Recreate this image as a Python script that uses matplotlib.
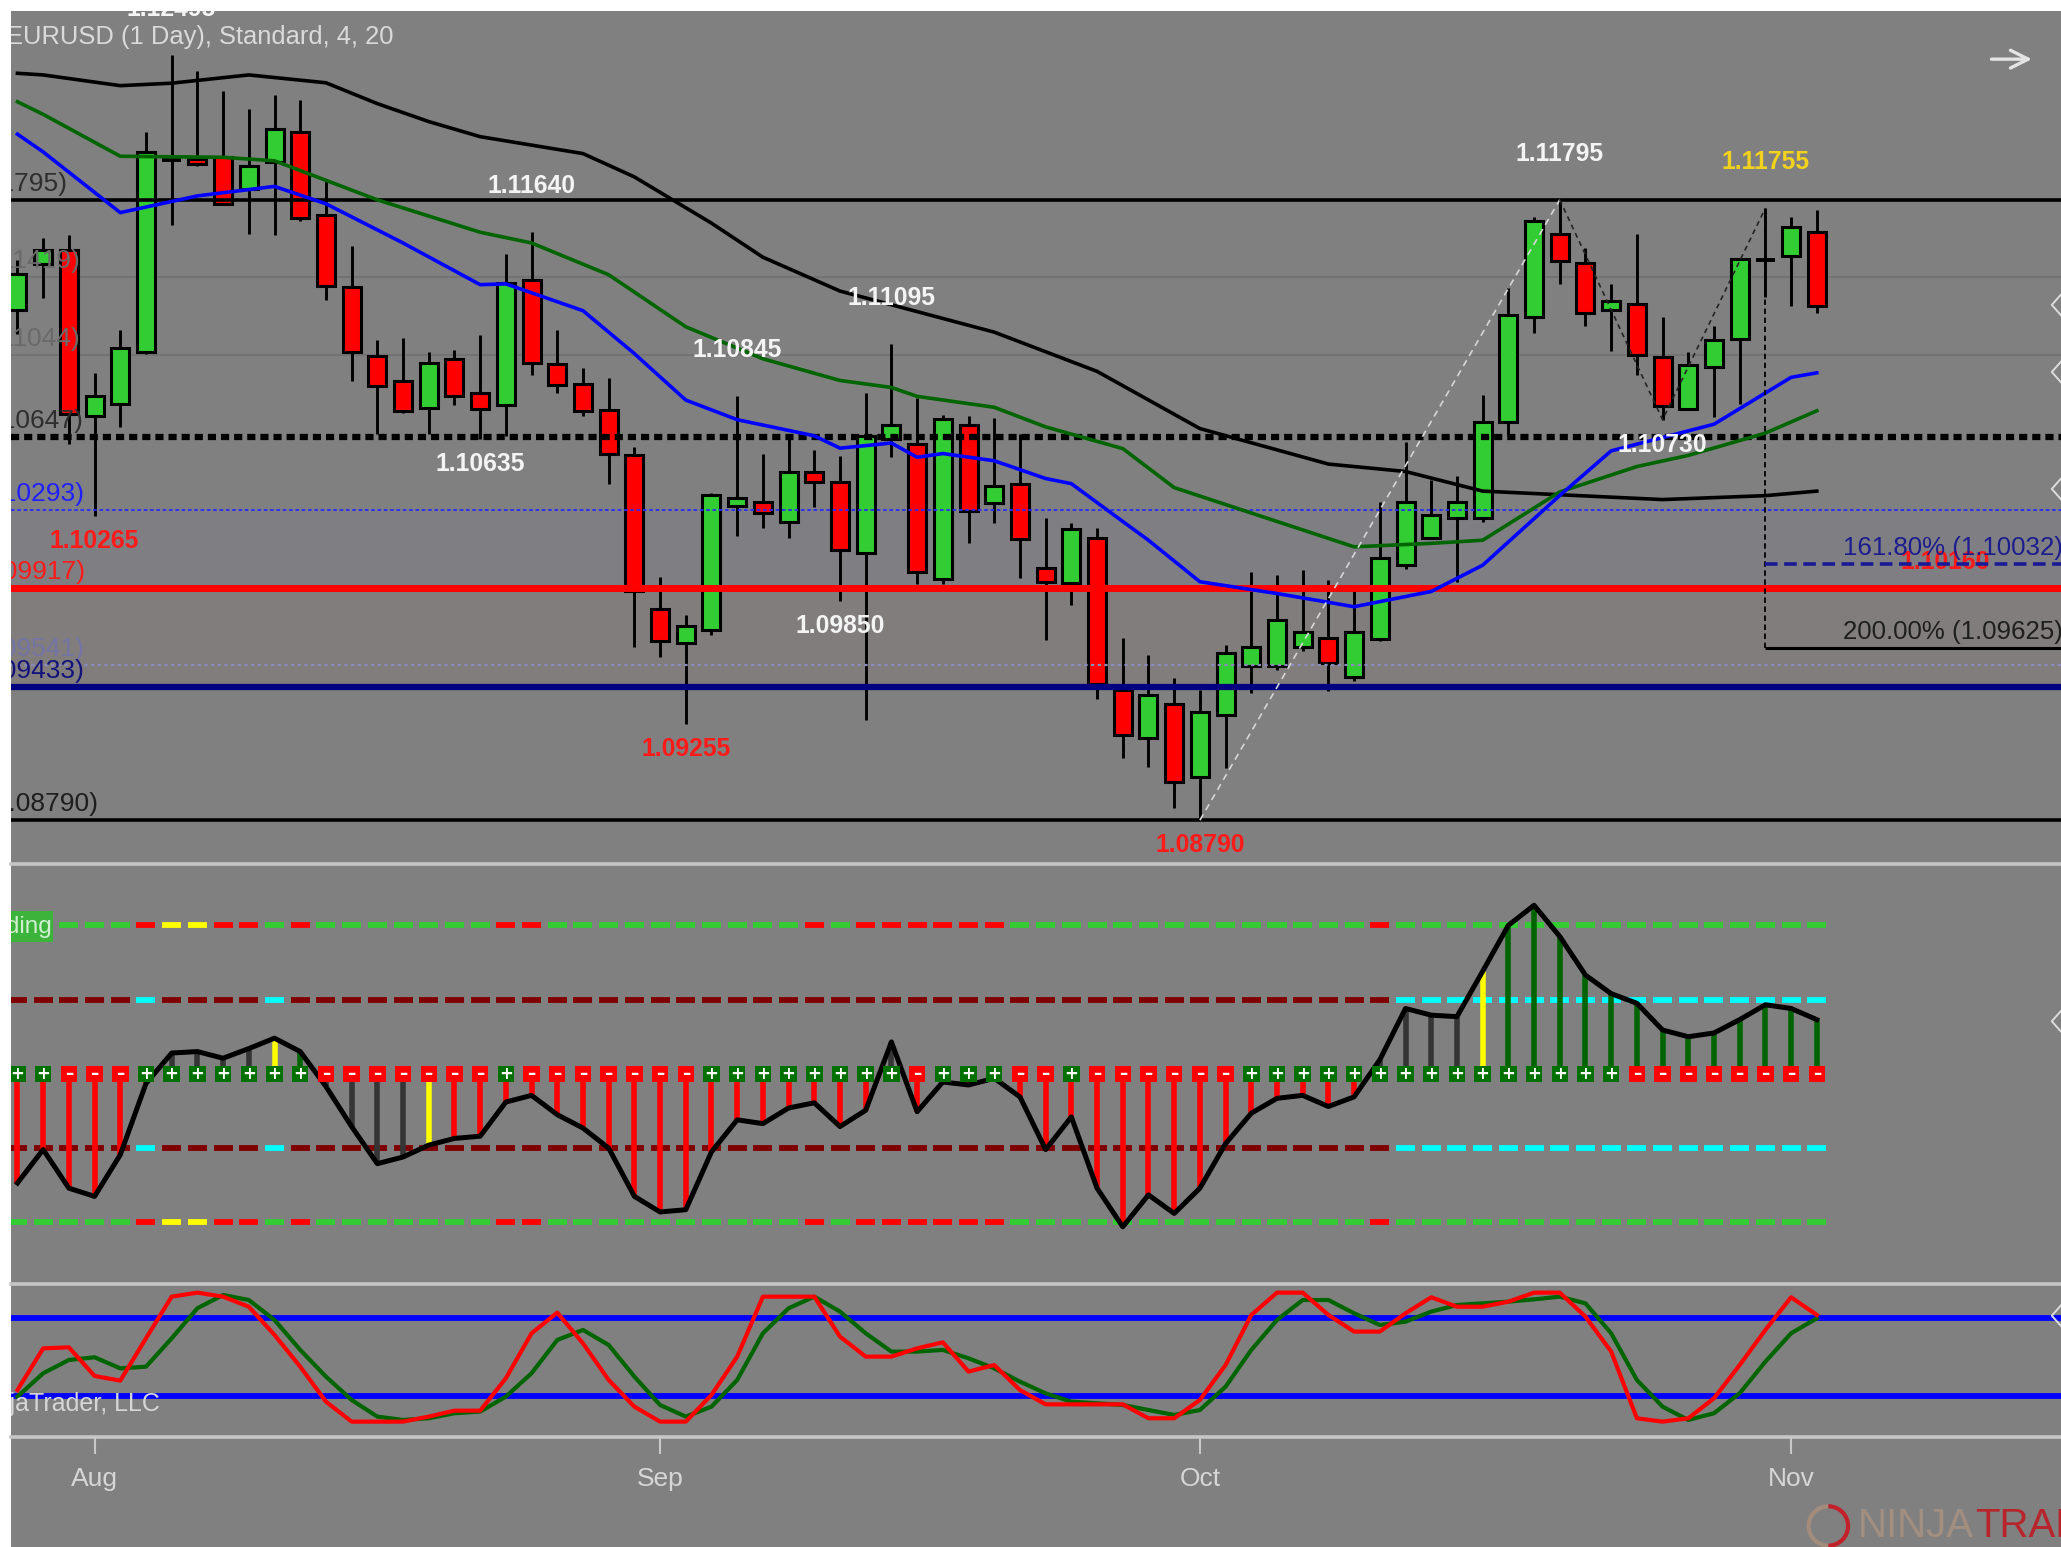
import matplotlib
matplotlib.use("Agg")
import matplotlib.pyplot as plt
from matplotlib.patches import Rectangle, Arc
from matplotlib.lines import Line2D

plt.rcParams['font.family'] = ['Liberation Sans', 'DejaVu Sans']

# ---------------- data ----------------
bars = list(range(-3, 68))   # 0 = 1 Aug 2019 (daily bars)

opens = [1.11260, 1.11483, 1.11553, 1.10747, 1.10808, 1.11058, 1.11986, 1.11992, 1.12001, 1.11849,
         1.11980, 1.12123, 1.11721, 1.11375, 1.11037, 1.10916, 1.10789, 1.11025, 1.10859, 1.10799,
         1.11407, 1.11002, 1.10904, 1.10776, 1.10557, 1.09815, 1.09650, 1.09713, 1.10312, 1.10332,
         1.10235, 1.10477, 1.10426, 1.10082, 1.10636, 1.10611, 1.09956, 1.10706, 1.10324, 1.10420,
         1.10012, 1.09938, 1.10159, 1.09420, 1.09187, 1.09353, 1.09000, 1.09299, 1.09535, 1.09535,
         1.09630, 1.09671, 1.09484, 1.09670, 1.10027, 1.10159, 1.10254, 1.10254, 1.10719, 1.11228,
         1.11629, 1.11487, 1.11260, 1.11292, 1.11033, 1.10784, 1.10985, 1.11120, 1.11502, 1.11521,
         1.11638]
highs = [1.11502, 1.11610, 1.11623, 1.10955, 1.11165, 1.12123, 1.12495, 1.12419, 1.12323, 1.12234,
         1.12304, 1.12279, 1.11897, 1.11572, 1.11114, 1.11127, 1.11057, 1.11069, 1.11139, 1.11531,
         1.11640, 1.11165, 1.10980, 1.10932, 1.10598, 1.09968, 1.09783, 1.10375, 1.10845, 1.10566,
         1.10662, 1.10585, 1.10554, 1.10859, 1.11095, 1.10834, 1.10751, 1.10747, 1.10738, 1.10662,
         1.10254, 1.10229, 1.10203, 1.09671, 1.09592, 1.09478, 1.09420, 1.09639, 1.09993, 1.09980,
         1.10003, 1.09955, 1.09911, 1.10331, 1.10624, 1.10439, 1.10458, 1.10849, 1.11368, 1.11712,
         1.11795, 1.11563, 1.11389, 1.11629, 1.11228, 1.11057, 1.11184, 1.11515, 1.11755, 1.11712,
         1.11747]
lows = [1.11146, 1.11318, 1.10611, 1.10265, 1.10694, 1.11050, 1.11674, 1.11960, 1.11770, 1.11629,
        1.11623, 1.11693, 1.11311, 1.10916, 1.10662, 1.10764, 1.10662, 1.10802, 1.10635, 1.10650,
        1.10948, 1.10859, 1.10747, 1.10420, 1.09630, 1.09579, 1.09255, 1.09688, 1.10168, 1.10203,
        1.10159, 1.10305, 1.09850, 1.09274, 1.10547, 1.09936, 1.09936, 1.10133, 1.10229, 1.09961,
        1.09662, 1.09834, 1.09376, 1.09089, 1.09049, 1.08847, 1.08790, 1.09045, 1.09408, 1.09516,
        1.09611, 1.09414, 1.09465, 1.09656, 1.10006, 1.10152, 1.09942, 1.10233, 1.10655, 1.11152,
        1.11389, 1.11184, 1.11065, 1.10948, 1.10730, 1.10776, 1.10741, 1.10806, 1.11324, 1.11279,
        1.11249]
closes = [1.11438, 1.11553, 1.10757, 1.10843, 1.11076, 1.12027, 1.11990, 1.11967, 1.11776, 1.11960,
          1.12139, 1.11706, 1.11379, 1.11057, 1.10891, 1.10773, 1.11006, 1.10843, 1.10783, 1.11394,
          1.11006, 1.10897, 1.10773, 1.10566, 1.09898, 1.09656, 1.09732, 1.10363, 1.10353, 1.10280,
          1.10477, 1.10426, 1.10098, 1.10652, 1.10706, 1.09993, 1.10732, 1.10286, 1.10410, 1.10152,
          1.09942, 1.10199, 1.09452, 1.09204, 1.09395, 1.08977, 1.09315, 1.09599, 1.09630, 1.09760,
          1.09702, 1.09550, 1.09702, 1.10059, 1.10331, 1.10267, 1.10331, 1.10719, 1.11238, 1.11693,
          1.11498, 1.11249, 1.11305, 1.11044, 1.10795, 1.10994, 1.11115, 1.11509, 1.11500, 1.11661,
          1.11281]

month_ticks = [0, 22, 43, 66]
month_labels = ["Aug", "Sep", "Oct", "Nov"]

# moving averages (bar, price)
ma_slow_bars = [-3, -2, 1, 3, 6, 9, 11, 13, 15, 19, 21, 24, 26, 29, 35, 39, 43, 48, 51, 54, 61, 65, 67]
ma_slow_vals = [1.12408, 1.12400, 1.12348, 1.12360, 1.12400, 1.12362, 1.12261, 1.12174, 1.12101, 1.12019,
                1.11906, 1.11682, 1.11517, 1.11353, 1.11154, 1.10964, 1.10687, 1.10515, 1.10479, 1.10384,
                1.10343, 1.10362, 1.10384]
ma_mid_bars = [-3, -2, 1, 5, 7, 11, 15, 17, 20, 23, 26, 29, 31, 32, 35, 37, 40, 42, 46, 49, 52, 54, 57,
               60, 62, 65, 67]
ma_mid_vals = [1.12270, 1.12209, 1.12006, 1.12001, 1.11984, 1.11795, 1.11638, 1.11586, 1.11432, 1.11180,
               1.11025, 1.10920, 1.10886, 1.10843, 1.10790, 1.10695, 1.10590, 1.10401, 1.10237, 1.10114,
               1.10131, 1.10146, 1.10380, 1.10503, 1.10557, 1.10665, 1.10773]
ma_fast_bars = [-3, -2, 1, 4, 7, 9, 12, 15, 16, 19, 21, 23, 25, 28, 29, 31, 32, 33, 35, 37, 38, 40, 41,
                43, 46, 49, 52, 54, 57, 59, 63, 66, 67]
ma_fast_vals = [1.12113, 1.12027, 1.11733, 1.11814, 1.11860, 1.11776, 1.11586, 1.11384, 1.11388, 1.11258,
                1.11050, 1.10825, 1.10730, 1.10652, 1.10592, 1.10617, 1.10548, 1.10566, 1.10531, 1.10445,
                1.10420, 1.10237, 1.10146, 1.09945, 1.09888, 1.09824, 1.09898, 1.10025, 1.10363, 1.10579,
                1.10708, 1.10935, 1.10957]

# horizontal levels
level_prices = [1.11795, 1.11419, 1.11044, 1.10647, 1.10293, 1.09917, 1.09541, 1.09433, 1.08790]
level_texts = ["(1.11795)", "(1.11419)", "(1.11044)", "(1.10647)", "(1.10293)", "(1.09917)",
               "(1.09541)", "(1.09433)", "(1.08790)"]
level_label_end = [-1.07, -0.56, -0.56, -0.45, -0.40, -0.36, -0.40, -0.40, 0.13]

# swing labels
swing_bars = [3, 0, 17, 15, 25, 23, 31, 29, 43, 57, 61, 65]
swing_texts = ["1.12495", "1.10265", "1.11640", "1.10635", "1.10845", "1.09255", "1.11095",
               "1.09850", "1.08790", "1.11795", "1.10730", "1.11755"]
swing_kind = ["high", "low", "high", "low", "high", "low", "high", "low", "low", "high", "low", "high"]
swing_tone = ["white", "red", "white", "white", "white", "red", "white", "white", "red", "white",
              "white", "yellow"]

zig_bars = [43, 57, 61, 65]
zig_vals = [1.08790, 1.11795, 1.10730, 1.11755]

fib_bar = 65
fib_top = 1.11755
fib_prices = [1.10032, 1.09625]
fib_texts = ["161.80% (1.10032)", "200.00% (1.09625)"]

# oscillator panel
osc_vals = [-1.47, -1.02, -1.54, -1.65, -1.09, -0.13, 0.28, 0.30, 0.21, 0.34,
            0.48, 0.30, -0.17, -0.71, -1.21, -1.12, -0.96, -0.87, -0.84, -0.38,
            -0.29, -0.55, -0.73, -1.00, -1.65, -1.86, -1.83, -1.05, -0.62, -0.67,
            -0.46, -0.39, -0.71, -0.49, 0.43, -0.51, -0.11, -0.15, -0.06, -0.31,
            -1.02, -0.58, -1.54, -2.06, -1.63, -1.88, -1.54, -0.94, -0.53, -0.33,
            -0.29, -0.44, -0.31, 0.19, 0.88, 0.79, 0.77, 1.38, 2.00, 2.27,
            1.85, 1.33, 1.08, 0.95, 0.59, 0.50, 0.55, 0.73, 0.93, 0.88,
            0.73]
osc_state = ("RRRRRR" "KKKK" "Y" "G" "KKKK" "Y" "RRRRRRRRRRRRRRRRR" "K"
             "RRRRRRRRRRRRRRRRRR" "KKKK" "Y" "GGGGGGGGGGGGG")
osc_sign = ("++" "---" "+++++++" "-------" "+" "-------" "++++++++" "-" "+++" "--" "+"
            "------" "+++++++++++++++" "--------")
band_outer = ("GGGGG" "R" "YY" "RR" "G" "R" "GGGGGGG" "RR" "GGGGGGGGGG" "R" "G" "RRRRRR"
              "GGGGGGGGGGGGGG" "R" "GGGGGGGGGGGGGGGGG")
band_inner = ("DDDDD" "C" "DDDD" "C" + "D" * 43 + "C" * 17)

# stochastics
stoch_k = [24.5, 56.8, 57.6, 35.4, 31.8, 64.6, 96.9, 100, 96.9, 89.1,
           67.2, 42.6, 15.5, 0, 0, 0, 3.9, 8.5, 8.5, 33.6,
           68.5, 84.5, 60.7, 32.3, 11.6, 0, 0, 20.7, 50.4, 96.9,
           96.9, 96.9, 65.9, 50.4, 50.4, 56.8, 61.5, 38.8, 43.9, 24.5,
           13.4, 13.4, 13.4, 13.4, 2.6, 2.6, 16.8, 43.9, 82.7, 100,
           100, 82.7, 69.8, 69.8, 84.0, 96.4, 89.1, 89.1, 93.0, 100,
           100, 81.4, 54.3, 2.6, 0, 2.6, 18.1, 43.9, 71.1, 96.4,
           82.7]
stoch_d = [19.4, 37.5, 47.8, 49.9, 41.3, 42.6, 64.6, 87.9, 98.2, 94.3,
           78.8, 55.6, 34.9, 16.8, 3.9, 1.3, 2.6, 6.5, 7.8, 19.4,
           37.5, 63.3, 71.1, 59.4, 34.9, 12.9, 3.9, 11.6, 32.3, 68.5,
           87.9, 96.9, 85.3, 68.5, 54.3, 54.3, 55.6, 49.1, 41.3, 31.0,
           21.9, 15.5, 14.2, 12.9, 9.0, 5.2, 9.0, 27.1, 55.6, 78.8,
           94.3, 94.3, 84.0, 74.9, 77.5, 85.3, 90.4, 91.7, 93.0, 94.8,
           96.9, 91.7, 68.5, 32.3, 11.6, 1.3, 6.5, 22.0, 46.5, 68.5,
           80.1]

# ---------------- layout ----------------
W, H = 1568.0, 1177.0
def fx(x): return x / W
def fy(y): return 1 - y / H

BG = '#808080'
fig = plt.figure(figsize=(20.61, 15.47), dpi=100, facecolor='white')
fig.add_artist(Rectangle((fx(8), 0), 1 - fx(8), fy(8), transform=fig.transFigure,
                         facecolor=BG, edgecolor='none', zorder=0))

ax1 = fig.add_axes([fx(8), fy(657), 1 - fx(8), (657 - 8) / H])
ax2 = fig.add_axes([fx(8), fy(977), 1 - fx(8), (977 - 657) / H])
ax3 = fig.add_axes([fx(8), fy(1093), 1 - fx(8), (1093 - 977) / H])
XL = (-3.27, 76.5)
for ax in (ax1, ax2, ax3):
    ax.set_facecolor(BG)
    for s in ax.spines.values():
        s.set_visible(False)
    ax.set_xlim(*XL)
    ax.set_yticks([])
ax1.set_xticks([])
ax2.set_xticks([])
ax1.set_ylim(1.08580, 1.12712)
ax2.set_ylim(-2.832, 2.832)
ax3.set_ylim(-11.6, 106.6)

FS_LVL = 19
FS_SW = 17.8
FS_FIB = 18.6
GREEN = '#32cd32'
RED = '#ff0000'

# ---------------- price panel ----------------
ax1.axhspan(1.09917, 1.10293, color='#7e7e83', zorder=0.3, lw=0)
ax1.axhspan(1.09433, 1.09917, color='#817d7d', zorder=0.3, lw=0)

for b, o, h, l, c in zip(bars, opens, highs, lows, closes):
    ax1.vlines(b, l, h, color='black', lw=2.1, zorder=3)
    if abs(c - o) < 0.00008:
        ax1.hlines(o, b - 0.36, b + 0.36, color='black', lw=2.8, zorder=4)
    else:
        ax1.bar(b, abs(c - o), bottom=min(o, c), width=0.7,
                color=GREEN if c > o else RED, edgecolor='black', linewidth=2.2, zorder=4)

ax1.axhline(level_prices[0], color='black', lw=2.6, zorder=5)
ax1.axhline(level_prices[1], color='#737373', lw=1.5, zorder=1)
ax1.axhline(level_prices[2], color='#737373', lw=1.5, zorder=1)
ax1.axhline(level_prices[3], color='black', lw=4.5, ls=(0, (1.3, 0.8)), zorder=5)
ax1.axhline(level_prices[4], color='#2a2aff', lw=1.3, ls=(0, (2, 1.5)), zorder=5)
ax1.axhline(level_prices[5], color='#ff0000', lw=5, zorder=5)
ax1.axhline(level_prices[6], color='#8a8abb', lw=1.6, ls=(0, (1.5, 1.5)), zorder=5)
ax1.axhline(level_prices[7], color='#000080', lw=4.5, zorder=5)
ax1.axhline(level_prices[8], color='black', lw=2.6, zorder=5)

level_colors = ['#2e2e2e', '#6a6a6a', '#6a6a6a', '#2e2e2e', '#2020ff', '#ff1a1a', '#7474a6',
                '#12127a', '#1e1e1e']
for p, t, xe, col in zip(level_prices, level_texts, level_label_end, level_colors):
    ax1.annotate(t, xy=(xe, p), xytext=(0, 11.5), textcoords='offset points', ha='right',
                 va='center', color=col, fontsize=FS_LVL, clip_on=True, zorder=7)

ax1.plot(ma_slow_bars, ma_slow_vals, color='black', lw=2.6, zorder=6)
ax1.plot(ma_mid_bars, ma_mid_vals, color='#006400', lw=2.6, zorder=6)
ax1.plot(ma_fast_bars, ma_fast_vals, color='#0000ff', lw=2.6, zorder=6)

ax1.plot(zig_bars[:2], zig_vals[:2], color='#d6d6d6', lw=1.2, ls=(0, (4, 3)), zorder=6)
ax1.plot(zig_bars[1:], zig_vals[1:], color='#242424', lw=1.2, ls=(0, (3, 2.5)), zorder=6)

ax1.annotate("1.10160", xy=(72.0, 1.10160), xytext=(0, -18), textcoords='offset points',
             ha='center', va='center', color='#ff1a1a', fontsize=FS_SW, fontweight='bold',
             clip_on=True, zorder=5.5)
ax1.vlines(fib_bar, fib_prices[1], fib_top, color='black', lw=1.3, ls=(0, (3, 2)), zorder=6)
ax1.hlines(fib_prices[1], fib_bar, XL[1], color='black', lw=2.2, zorder=6)
ax1.hlines(fib_prices[0], fib_bar, XL[1], color='#1a1a96', lw=2.6, ls=(0, (3.5, 1.8)), zorder=6)
fib_colors = ['#1c1c8e', '#1e1e1e']
for p, t, col in zip(fib_prices, fib_texts, fib_colors):
    ax1.annotate(t, xy=(XL[1], p), xytext=(1, 11.5), textcoords='offset points', ha='right',
                 va='center', color=col, fontsize=FS_FIB, clip_on=True, zorder=8)

tone = {'white': '#f4f4f4', 'red': '#ff1a1a', 'yellow': '#f2d21c'}
for b, t, k, tn in zip(swing_bars, swing_texts, swing_kind, swing_tone):
    i = bars.index(b)
    if k == 'high':
        ax1.annotate(t, xy=(b, highs[i]), xytext=(0, 33), textcoords='offset points',
                     ha='center', va='center', color=tone[tn], fontsize=FS_SW,
                     fontweight='bold', clip_on=True, zorder=8)
    else:
        ax1.annotate(t, xy=(b, lows[i]), xytext=(0, -18), textcoords='offset points',
                     ha='center', va='center', color=tone[tn], fontsize=FS_SW,
                     fontweight='bold', clip_on=True, zorder=8)

ax1.text(-0.0022, (657 - 28) / 649, "EURUSD (1 Day), Standard, 4, 20", transform=ax1.transAxes,
         color='#dadada', fontsize=18.4, ha='left', va='center', clip_on=True, zorder=8)
ax1.annotate('', xy=((1548 - 8) / 1560, (657 - 45) / 649), xytext=((1513 - 8) / 1560, (657 - 45) / 649),
             xycoords='axes fraction', textcoords='axes fraction',
             arrowprops=dict(arrowstyle='->', color='#e4e4e4', lw=2.4, mutation_scale=32))

# ---------------- oscillator panel ----------------
outer_col = {'G': '#33cc33', 'R': '#ff0000', 'Y': '#ffff00'}
inner_col = {'D': '#800000', 'C': '#00ffff'}
for lvl in (2, -2):
    ax2.hlines([lvl] * len(bars), [b - 0.37 for b in bars], [b + 0.37 for b in bars],
               colors=[outer_col[s] for s in band_outer], lw=4.2, zorder=2)
for lvl in (1, -1):
    ax2.hlines([lvl] * len(bars), [b - 0.37 for b in bars], [b + 0.37 for b in bars],
               colors=[inner_col[s] for s in band_inner], lw=4.2, zorder=2)

hist_col = {'R': '#ff0000', 'K': '#353535', 'Y': '#ffff00', 'G': '#006400'}
ax2.vlines(bars, 0, osc_vals, colors=[hist_col[s] for s in osc_state], lw=4.0, zorder=3)
ax2.plot(bars, osc_vals, color='black', lw=3.6, zorder=4, solid_joinstyle='round')

for b, s in zip(bars, osc_sign):
    ax2.add_patch(Rectangle((b - 0.32, -0.11), 0.64, 0.22,
                            facecolor='#007000' if s == '+' else '#ff0000',
                            edgecolor='none', zorder=5))
    ax2.text(b, 0.0, '+' if s == '+' else '\u2013', color='white', fontsize=12,
             fontweight='bold', ha='center', va='center', zorder=6,
             family='DejaVu Sans')

ax2.add_patch(Rectangle((XL[0], 1.77), (40 - 8) / 19.55, 0.42, facecolor='#3cb43c',
                        edgecolor='none', zorder=6))
ax2.text(-1.66, 1.98, "Trending", color='#d2efd2', fontsize=17.5, ha='right', va='center',
         clip_on=True, zorder=7)

# ---------------- stochastic panel ----------------
ax3.axhline(80, color='#0000ff', lw=4.2, zorder=2)
ax3.axhline(20, color='#0000ff', lw=4.2, zorder=2)
ax3.plot(bars, stoch_d, color='#006400', lw=3.0, zorder=3)
ax3.plot(bars, stoch_k, color='#ff0000', lw=3.0, zorder=4)
ax3.text((122 - 8) / 1560, (1093 - 1068) / 116, "\u00a9 2019 NinjaTrader, LLC",
         transform=ax3.transAxes, color='#d6d6d6', fontsize=18, ha='right', va='center',
         clip_on=True, zorder=5)

ax3.set_xticks(month_ticks)
ax3.set_xticklabels(month_labels)
ax3.tick_params(axis='x', direction='out', length=12, width=1.5, color='#c8c8c8',
                labelcolor='#d6d6d6', labelsize=19, pad=10)

# separators
for yy in (657, 977, 1093):
    fig.add_artist(Line2D([fx(8), 1], [fy(yy), fy(yy)], transform=fig.transFigure,
                          color='#c6c6c6', lw=2.6, zorder=10))

# right-edge chevrons
for yy in (232, 283, 372, 777, 1001):
    fig.add_artist(Line2D([fx(1569), fx(1561), fx(1569)], [fy(yy - 9), fy(yy), fy(yy + 9)],
                          transform=fig.transFigure, color='#dcdcdc', lw=1.4, zorder=10))

# logo
fig.add_artist(Arc((fx(1391), fy(1161)), 30 / W, 30 / H, theta1=90, theta2=270,
                   transform=fig.transFigure, color='#a48c7c', lw=3, zorder=10))
fig.add_artist(Arc((fx(1391), fy(1161)), 30 / W, 30 / H, theta1=-90, theta2=90,
                   transform=fig.transFigure, color='#c4202a', lw=3, zorder=10))
fig.text(fx(1413), fy(1161), "NINJA", color='#a38f80', fontsize=29, va='center', ha='left')
fig.text(fx(1503), fy(1161), "TRADER", color='#b8242c', fontsize=29, va='center', ha='left')

fig.savefig("out.png", dpi=100, facecolor='white')
